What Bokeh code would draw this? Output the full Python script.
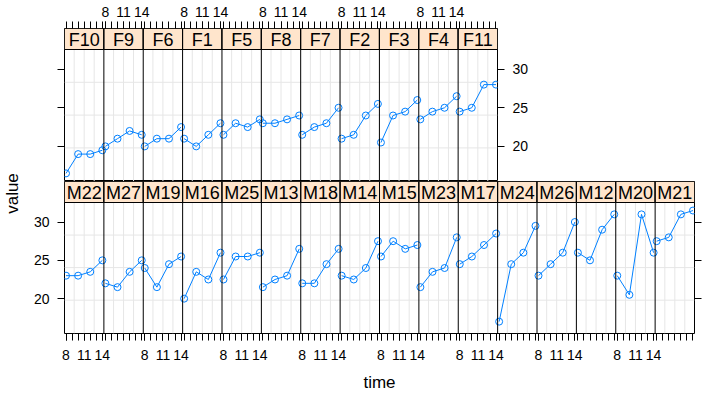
import numpy as np
from bokeh.plotting import figure
from bokeh.models import Range1d, FixedTicker, Span, ColumnDataSource, LinearAxis
from bokeh.layouts import row, column
from bokeh.embed import file_html
from bokeh.resources import INLINE
from bokeh.core.properties import value

# ---------------- data ----------------
ages = [8, 10, 12, 14]

female_ids = ["F10", "F9", "F6", "F1", "F5", "F8", "F7", "F2", "F3", "F4", "F11"]
female_values = [
    [16.5, 19.0, 19.0, 19.5],
    [20.0, 21.0, 22.0, 21.5],
    [20.0, 21.0, 21.0, 22.5],
    [21.0, 20.0, 21.5, 23.0],
    [21.5, 23.0, 22.5, 23.5],
    [23.0, 23.0, 23.5, 24.0],
    [21.5, 22.5, 23.0, 25.0],
    [21.0, 21.5, 24.0, 25.5],
    [20.5, 24.0, 24.5, 26.0],
    [23.5, 24.5, 25.0, 26.5],
    [24.5, 25.0, 28.0, 28.0],
]

male_ids = ["M22", "M27", "M19", "M16", "M25", "M13", "M18", "M14",
            "M15", "M23", "M17", "M24", "M26", "M12", "M20", "M21"]
male_values = [
    [23.0, 23.0, 23.5, 25.0],
    [22.0, 21.5, 23.5, 25.0],
    [24.0, 21.5, 24.5, 25.5],
    [20.0, 23.5, 22.5, 26.0],
    [22.5, 25.5, 25.5, 26.0],
    [21.5, 22.5, 23.0, 26.5],
    [22.0, 22.0, 24.5, 26.5],
    [23.0, 22.5, 24.0, 27.5],
    [25.5, 27.5, 26.5, 27.0],
    [21.5, 23.5, 24.0, 28.0],
    [24.5, 25.5, 27.0, 28.5],
    [17.0, 24.5, 26.0, 29.5],
    [23.0, 24.5, 26.0, 30.0],
    [26.0, 25.0, 29.0, 31.0],
    [23.0, 20.5, 31.0, 26.0],
    [27.5, 28.0, 31.0, 31.5],
]

x_tick_values = [8, 9, 10, 11, 12, 13, 14]
x_label_values = [8, 11, 14]
y_tick_values = [20, 25, 30]
v_grid_values = [9.35, 11.0, 12.65]
h_grid_values = [19.8, 24.05, 28.3]

# ---------------- style ----------------
FONT = "Liberation Sans"
BLUE = "#0080FF"
STRIP_FILL = "#FFE5CC"
GRID = "#E6E6E6"
STRIP_PX = 21

X_LO, X_HI = 7.75, 14.25
SPAN = X_HI - X_LO
all_v = [v for s in female_values + male_values for v in s]
vmin, vmax = min(all_v), max(all_v)
pad = 0.07 * (vmax - vmin)
Y_LO, Y_HI = vmin - pad, vmax + pad


def style_axis(ax, tick_out=7, standoff=8):
    ax.axis_line_color = None
    ax.major_tick_in = 0
    ax.major_tick_out = tick_out
    ax.minor_tick_in = 0
    ax.minor_tick_out = tick_out
    ax.major_tick_line_color = "black"
    ax.minor_tick_line_color = "black"
    ax.major_label_text_font = FONT
    ax.major_label_text_font_size = "14px"
    ax.major_label_text_color = "black"
    ax.major_label_standoff = standoff


def x_axis(n, labeled_cols, tick_out, standoff):
    all_pos = [j * SPAN + (t - X_LO) for j in range(n) for t in x_tick_values]
    lab_pos = [j * SPAN + (t - X_LO) for j in labeled_cols for t in x_label_values]
    overrides = {j * SPAN + (t - X_LO): str(t) for j in labeled_cols for t in x_label_values}
    ax = LinearAxis(ticker=FixedTicker(ticks=lab_pos, minor_ticks=all_pos),
                    major_label_overrides=overrides)
    style_axis(ax, tick_out, standoff)
    return ax


def y_axis(labeled):
    ax = LinearAxis(ticker=FixedTicker(ticks=y_tick_values, minor_ticks=[]))
    style_axis(ax, 7, 8 if labeled else 0)
    if not labeled:
        ax.major_label_overrides = {v: "" for v in y_tick_values}
        ax.major_label_text_font_size = "0px"
    return ax


def make_row(ids, vals, frame_w, frame_h, borders):
    n = len(ids)
    left, right, top, bottom = borders
    panel_px = frame_h - STRIP_PX
    strip_u = (Y_HI - Y_LO) * STRIP_PX / panel_px
    p = figure(frame_width=frame_w, frame_height=frame_h,
               x_range=Range1d(0, n * SPAN), y_range=Range1d(Y_LO, Y_HI + strip_u),
               x_axis_location=None, y_axis_location=None,
               toolbar_location=None, output_backend="svg",
               min_border=0, min_border_left=left, min_border_right=right,
               min_border_top=top, min_border_bottom=bottom,
               background_fill_color="white", border_fill_color="white",
               outline_line_color="black", outline_line_width=1)
    p.xgrid.visible = False
    p.ygrid.visible = False

    # panel grid lines
    gx0, gx1, gy0, gy1 = [], [], [], []
    for j in range(n):
        for g in v_grid_values:
            x = j * SPAN + (g - X_LO)
            gx0.append(x); gx1.append(x); gy0.append(Y_LO); gy1.append(Y_HI)
    for g in h_grid_values:
        gx0.append(0); gx1.append(n * SPAN); gy0.append(g); gy1.append(g)
    p.segment(x0=gx0, y0=gy0, x1=gx1, y1=gy1, line_color=GRID, line_width=1)

    # strips
    lefts = [j * SPAN for j in range(n)]
    rights = [(j + 1) * SPAN for j in range(n)]
    p.quad(left=lefts, right=rights, bottom=[Y_HI] * n, top=[Y_HI + strip_u] * n,
           fill_color=STRIP_FILL, line_color="black", line_width=1)
    p.text(x=[(a + b) / 2 for a, b in zip(lefts, rights)], y=[Y_HI + strip_u / 2] * n,
           text=ids, text_align="center", text_baseline="middle",
           text_font=value(FONT), text_font_size="18px", text_color="black",
           y_offset=1)

    # panel separators
    for j in range(1, n):
        p.add_layout(Span(location=j * SPAN, dimension="height",
                          line_color="black", line_width=1))

    # data
    xs = [[j * SPAN + (a - X_LO) for a in ages] for j in range(n)]
    p.multi_line(xs=xs, ys=[list(v) for v in vals], line_color=BLUE, line_width=1)
    src = ColumnDataSource(dict(x=[x for xx in xs for x in xx],
                                y=[y for v in vals for y in v]))
    p.scatter("x", "y", source=src, marker="circle", size=7,
              fill_color=None, line_color=BLUE, line_width=1)
    return p


top_fig = make_row(female_ids, female_values, 433, 153, (40, 36, 28, 0))
top_fig.add_layout(x_axis(len(female_ids), [1, 3, 5, 7, 9], 7, 5), "above")
top_fig.add_layout(y_axis(False), "left")
top_fig.add_layout(y_axis(True), "right")

bot_fig = make_row(male_ids, male_values, 630, 152, (40, 8, 0, 62))
bax = x_axis(len(male_ids), [0, 2, 4, 6, 8, 10, 12, 14], 7, 9)
bax.axis_label = "time"
bax.axis_label_text_font = FONT
bax.axis_label_text_font_size = "17px"
bax.axis_label_text_font_style = "normal"
bax.axis_label_text_color = "black"
bax.axis_label_standoff = 10
bot_fig.add_layout(bax, "below")
bot_fig.add_layout(y_axis(True), "left")
bot_fig.add_layout(y_axis(False), "right")

label_fig = figure(width=24, height=386, x_range=Range1d(0, 1), y_range=Range1d(0, 1),
                   x_axis_location=None, y_axis_location=None,
                   toolbar_location=None, output_backend="svg", min_border=0,
                   outline_line_color=None, background_fill_color="white",
                   border_fill_color="white")
label_fig.xgrid.visible = False
label_fig.ygrid.visible = False
label_fig.text(x=[0.5], y=[0.5], text=["value"], angle=np.pi / 2,
               text_align="center", text_baseline="middle",
               text_font=value(FONT), text_font_size="17px", text_color="black")

layout = row(label_fig, column(top_fig, bot_fig))

with open("out.html", "w") as f:
    f.write(file_html(layout, INLINE))
